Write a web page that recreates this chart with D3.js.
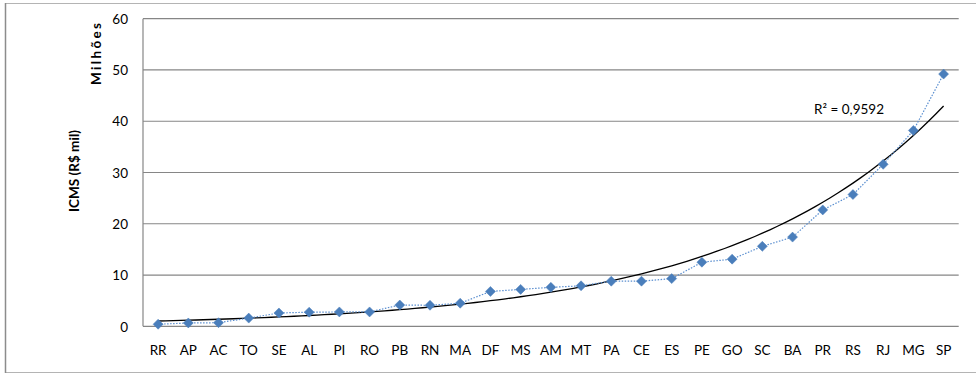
<!DOCTYPE html>
<html>
<head>
<meta charset="utf-8">
<style>
html, body {
  margin: 0;
  background: #fff;
  overflow: hidden;
}
text {
  font-family: Lato, "Open Sans", sans-serif;
  fill: #000;
}
.tick text {
  font-size: 13.5px;
}
.grid line {
  stroke: #868686;
  stroke-width: 1.2px;
}
.series {
  fill: none;
  stroke: #5b8fd0;
  stroke-width: 1.2px;
  stroke-dasharray: 1.5,1.5;
}
.trend {
  fill: none;
  stroke: #000;
  stroke-width: 1.3px;
}
.marker {
  fill: #4a7ebb;
  stroke: #4f81bd;
  stroke-width: 0.5px;
}
.title {
  font-size: 13.5px;
  font-weight: bold;
}
</style>
<script src="https://d3js.org/d3.v7.min.js"></script>
</head>
<body>
<svg width="976" height="374"></svg>
<script>
// states, ordered by ICMS collection (millions of R$)
var states = ["RR", "AP", "AC", "TO", "SE", "AL", "PI", "RO", "PB", "RN", "MA", "DF", "MS", "AM",
              "MT", "PA", "CE", "ES", "PE", "GO", "SC", "BA", "PR", "RS", "RJ", "MG", "SP"];
var icms = [0.4, 0.65, 0.7, 1.6, 2.6, 2.75, 2.8, 2.8, 4.15, 4.1, 4.5, 6.8, 7.2, 7.6,
            7.9, 8.8, 8.8, 9.3, 12.5, 13.1, 15.6, 17.4, 22.7, 25.7, 31.6, 38.2, 49.2];
var yTicks = [0, 10, 20, 30, 40, 50, 60];
// exponential trendline y = a * e^(b*x), x = 1..27
var trendA = 0.892;
var trendB = 0.1435;
var r2Label = "R² = 0,9592";

var svg = d3.select("svg");

// outer chart frame
svg.append("rect")
    .attr("x", 5.5).attr("y", 3.5)
    .attr("width", 1000).attr("height", 369)
    .attr("fill", "none")
    .attr("stroke", "#b4b4b4");
svg.append("line")
    .attr("x1", 5.5).attr("x2", 5.5).attr("y1", 3).attr("y2", 373)
    .attr("stroke", "#8c8c8c").attr("stroke-width", 1.5);

var plotLeft = 143, plotRight = 958.7, plotTop = 18.7, plotBottom = 326.3;

var x = d3.scaleBand().domain(states).range([plotLeft, plotRight]).padding(0);
var y = d3.scaleLinear().domain([0, 60]).range([plotBottom, plotTop]);
// continuous x for the trendline: index 1..27 -> band centres
var xi = d3.scaleLinear().domain([1, states.length])
    .range([x(states[0]) + x.bandwidth() / 2, x(states[states.length - 1]) + x.bandwidth() / 2]);

// gridlines
svg.append("g")
    .attr("class", "grid")
  .selectAll("line")
  .data(yTicks)
  .enter().append("line")
    .attr("x1", plotLeft).attr("x2", plotRight)
    .attr("y1", d => y(d)).attr("y2", d => y(d));

// left axis line
svg.append("line")
    .attr("x1", plotLeft).attr("x2", plotLeft)
    .attr("y1", plotTop).attr("y2", plotBottom)
    .attr("stroke", "#868686").attr("stroke-width", 1.2);

// y axis labels
var yAxis = svg.append("g")
    .attr("transform", "translate(" + plotLeft + ",0)")
    .call(d3.axisLeft(y).tickValues(yTicks).tickSize(0).tickPadding(15));
yAxis.select(".domain").remove();
yAxis.selectAll("text").attr("dy", "0.35em");

// x axis labels
var xAxis = svg.append("g")
    .attr("transform", "translate(0," + plotBottom + ")")
    .call(d3.axisBottom(x).tickSize(0).tickPadding(19));
xAxis.select(".domain").remove();

// trendline
var trendPts = d3.range(1, states.length + 0.001, 0.25);
svg.append("path")
    .attr("class", "trend")
    .attr("d", d3.line()
        .x(d => xi(d))
        .y(d => y(trendA * Math.exp(trendB * d)))(trendPts));

// series line
var cx = d => x(d) + x.bandwidth() / 2;
svg.append("path")
    .attr("class", "series")
    .attr("d", d3.line()
        .x((d, i) => cx(states[i]))
        .y(d => y(d))(icms));

// diamond markers
svg.append("g")
  .selectAll("path")
  .data(icms)
  .enter().append("path")
    .attr("class", "marker")
    .attr("d", d3.symbol().type(d3.symbolSquare).size(50))
    .attr("transform", (d, i) => "translate(" + cx(states[i]) + "," + y(d) + ") rotate(45)");

// R² label
svg.append("text")
    .attr("x", 849).attr("y", 114)
    .attr("text-anchor", "middle")
    .style("font-size", "13.5px")
    .text(r2Label);

// axis titles
svg.append("text")
    .attr("class", "title")
    .attr("transform", "translate(78.5,171) rotate(-90)")
    .attr("text-anchor", "middle")
    .attr("textLength", 82)
    .attr("lengthAdjust", "spacing")
    .text("ICMS (R$ mil)");
svg.append("text")
    .attr("class", "title")
    .attr("transform", "translate(100.5,54) rotate(-90)")
    .attr("text-anchor", "middle")
    .attr("textLength", 62)
    .attr("lengthAdjust", "spacing")
    .text("Milhões");
</script>
</body>
</html>
